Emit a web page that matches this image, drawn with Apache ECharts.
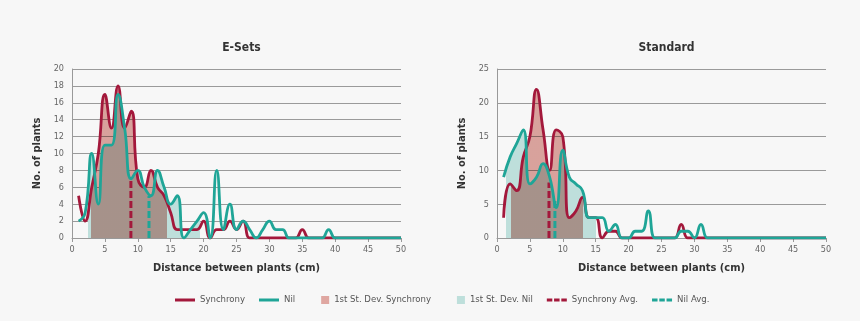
<!DOCTYPE html>
<html>
<head>
<meta charset="utf-8">
<script src="https://cdn.jsdelivr.net/npm/echarts@6/dist/echarts.min.js"></script>
<style>
  html, body { margin: 0; padding: 0; background: #f7f7f7; }
  #chart { width: 860px; height: 321px; }
</style>
</head>
<body>
<div id="chart"></div>
<script>
// Plant spacing distributions: number of plants at each distance (cm)
const distance = [1, 2, 3, 4, 5, 6, 7, 8, 9, 10, 11, 12, 13, 14, 15, 16, 17, 18, 19, 20,
  21, 22, 23, 24, 25, 26, 27, 28, 29, 30, 31, 32, 33, 34, 35, 36, 37, 38, 39, 40,
  41, 42, 43, 44, 45, 46, 47, 48, 49, 50];

const esetsSynchrony = [5, 2, 6, 10, 17, 13, 18, 13, 15, 7, 6, 8, 6, 5, 3, 1, 1, 1, 1, 2,
  0, 1, 1, 2, 1, 2, 0, 0, 0, 0, 0, 0, 0, 0, 1, 0, 0, 0, 0, 0,
  0, 0, 0, 0, 0, 0, 0, 0, 0, 0];
const esetsNil = [2, 3, 10, 4, 11, 11, 17, 13, 7, 8, 6, 5, 8, 6, 4, 5, 0, 1, 2, 3,
  0, 8, 1, 4, 1, 2, 1, 0, 1, 2, 1, 1, 0, 0, 0, 0, 0, 0, 1, 0,
  0, 0, 0, 0, 0, 0, 0, 0, 0, 0];
const standardSynchrony = [3, 8, 7, 12, 15, 22, 16, 10, 16, 15, 3, 4, 6, 3, 3, 0, 1, 1, 0, 0,
  0, 0, 0, 0, 0, 0, 0, 2, 0, 0, 0, 0, 0, 0, 0, 0, 0, 0, 0, 0,
  0, 0, 0, 0, 0, 0, 0, 0, 0, 0];
const standardNil = [9, 12, 14, 16, 8, 9, 11, 9, 4.5, 13, 9, 8, 7, 3, 3, 3, 1, 2, 0, 0,
  1, 1, 4, 0, 0, 0, 0, 1, 1, 0, 2, 0, 0, 0, 0, 0, 0, 0, 0, 0,
  0, 0, 0, 0, 0, 0, 0, 0, 0, 0];

// First standard deviation band: [from, to] in cm
const esetsSynchronySd = [2.9, 14.5];
const esetsNilSd = [2.4, 19.4];
const standardSynchronySd = [2.2, 13.1];
const standardNilSd = [1.4, 15.0];

// Average markers: [distance cm, marker height]
const esetsSynchronyAvg = [8.95, 7.2];
const esetsNilAvg = [11.7, 5];
const standardSynchronyAvg = [7.9, 8.2];
const standardNilAvg = [8.8, 5.6];

const panelTitles = ['E-Sets', 'Standard'];
const yMax = [20, 25];
const yStep = [2, 5];

const RED = '#a3183b';
const TEAL = '#1fa597';
const PINK = '#dfa7a1';
const MINT = '#bedfdb';
const FONT = "'Liberation Sans Narrow', 'DejaVu Sans Condensed', 'Roboto Condensed', Roboto, sans-serif";

const pairs = vals => distance.map((d, i) => [d, vals[i]]);

const LINE_ICON = 'path://M0,0M20,10M0,3.5H20V6.5H0Z';
const DASH_ICON = 'path://M0,0M20,10M0,3.5H5.5V6.5H0ZM7.25,3.5H12.75V6.5H7.25ZM14.5,3.5H20V6.5H14.5Z';
const SQUARE_ICON = 'path://M0,0M20,10M12,1H20V9H12Z';

const grids = [
  { left: 72, top: 69, width: 329, height: 169 },
  { left: 497, top: 69, width: 329, height: 169 }
];

function panelSeries(g, sync, nil, syncSd, nilSd, syncAvg, nilAvg) {
  return [
    { name: '1st St. Dev. Nil', type: 'line', xAxisIndex: g, yAxisIndex: g, data: pairs(nil),
      smooth: true, symbol: 'none', color: MINT, lineStyle: { width: 0 }, areaStyle: { opacity: 1 } },
    { name: '1st St. Dev. Synchrony', type: 'line', xAxisIndex: g, yAxisIndex: g, data: pairs(sync),
      smooth: true, symbol: 'none', color: PINK, lineStyle: { width: 0 }, areaStyle: { opacity: 1 },
      blendMode: 'multiply' },
    { name: 'Synchrony Avg.', type: 'line', xAxisIndex: g, yAxisIndex: g,
      data: [[syncAvg[0], 0], [syncAvg[0], syncAvg[1]]], symbol: 'none', color: RED,
      lineStyle: { width: 3, type: [7, 3], color: RED } },
    { name: 'Nil Avg.', type: 'line', xAxisIndex: g, yAxisIndex: g,
      data: [[nilAvg[0], 0], [nilAvg[0], nilAvg[1]]], symbol: 'none', color: TEAL,
      lineStyle: { width: 3, type: [7, 3], color: TEAL } },
    { name: 'Synchrony', type: 'line', xAxisIndex: g, yAxisIndex: g, data: pairs(sync),
      smooth: true, symbol: 'none', color: RED, lineStyle: { width: 2.8, color: RED } },
    { name: 'Nil', type: 'line', xAxisIndex: g, yAxisIndex: g, data: pairs(nil),
      smooth: true, symbol: 'none', color: TEAL, lineStyle: { width: 2.8, color: TEAL } }
  ];
}

const series = [
  ...panelSeries(0, esetsSynchrony, esetsNil, esetsSynchronySd, esetsNilSd, esetsSynchronyAvg, esetsNilAvg),
  ...panelSeries(1, standardSynchrony, standardNil, standardSynchronySd, standardNilSd, standardSynchronyAvg, standardNilAvg)
];

// Restrict each band fill to its standard-deviation range along the distance axis
const bands = [[0, esetsNilSd, MINT], [1, esetsSynchronySd, PINK], [6, standardNilSd, MINT], [7, standardSynchronySd, PINK]];
const visualMap = bands.map(([idx, sd, col]) => ({
  type: 'piecewise', show: false, seriesIndex: idx, dimension: 0,
  pieces: [{ gte: sd[0], lte: sd[1], color: col }],
  outOfRange: { color: 'rgba(0,0,0,0)' }
}));

const axisLabel = { color: '#666', fontSize: 9, fontFamily: FONT };
const nameStyle = { color: '#333', fontSize: 11, fontWeight: 'bold', fontFamily: FONT };

const option = {
  backgroundColor: '#f7f7f7',
  animation: false,
  title: panelTitles.map((t, i) => ({
    text: t, left: grids[i].left + grids[i].width / 2, top: 37, textAlign: 'center',
    textStyle: { color: '#333', fontSize: 12, fontWeight: 'bold', fontFamily: FONT }
  })),
  grid: grids,
  xAxis: grids.map((_, i) => ({
    type: 'value', gridIndex: i, min: 0, max: 50, interval: 5,
    name: 'Distance between plants (cm)', nameLocation: 'middle', nameGap: 25, nameTextStyle: nameStyle,
    axisLine: { show: true, lineStyle: { color: '#999', width: 1 } },
    axisTick: { show: true, length: 4, lineStyle: { color: '#999' } },
    axisLabel: Object.assign({ margin: 7 }, axisLabel),
    splitLine: { show: false }
  })),
  yAxis: grids.map((_, i) => ({
    type: 'value', gridIndex: i, min: 0, max: yMax[i], interval: yStep[i],
    name: 'No. of plants', nameLocation: 'middle', nameGap: 29, nameTextStyle: nameStyle,
    axisLine: { show: true, lineStyle: { color: '#999', width: 1 } },
    axisTick: { show: false },
    axisLabel: Object.assign({ margin: 8 }, axisLabel),
    splitLine: { show: true, lineStyle: { color: '#9a9a9a', width: 1.2 } }
  })),
  legend: {
    top: 290, left: 170, itemWidth: 20, itemHeight: 10, itemGap: 14, selectedMode: false,
    itemStyle: { borderWidth: 0 },
    textStyle: { color: '#555', fontSize: 9.5, fontFamily: FONT },
    data: [
      { name: 'Synchrony', icon: LINE_ICON, itemStyle: { color: RED } },
      { name: 'Nil', icon: LINE_ICON, itemStyle: { color: TEAL } },
      { name: '1st St. Dev. Synchrony', icon: SQUARE_ICON, itemStyle: { color: PINK } },
      { name: '1st St. Dev. Nil', icon: SQUARE_ICON, itemStyle: { color: MINT } },
      { name: 'Synchrony Avg.', icon: DASH_ICON, itemStyle: { color: RED } },
      { name: 'Nil Avg.', icon: DASH_ICON, itemStyle: { color: TEAL } }
    ]
  },
  visualMap,
  series
};

const chart = echarts.init(document.getElementById('chart'), null, { renderer: 'canvas' });
chart.setOption(option);
</script>
</body>
</html>
